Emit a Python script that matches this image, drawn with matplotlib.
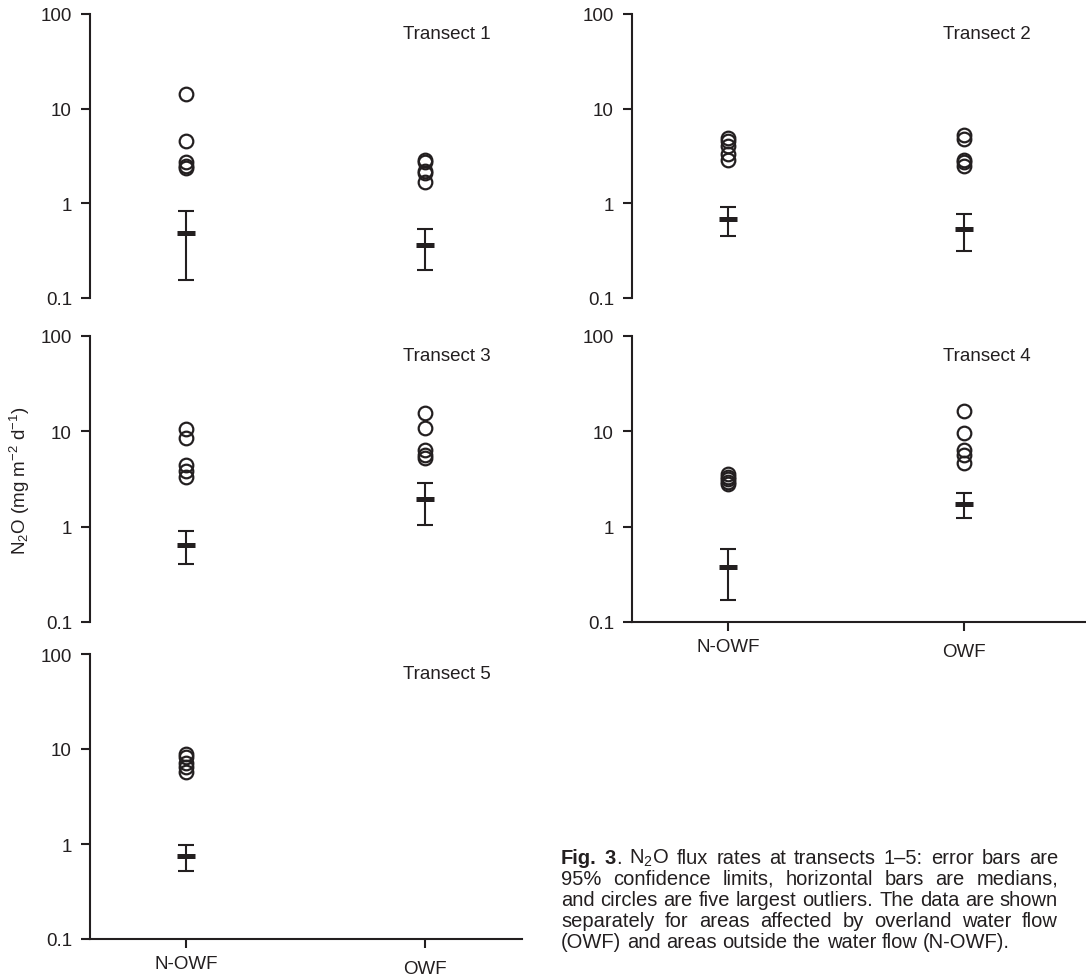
import numpy as np
import matplotlib
matplotlib.use("Agg")
import matplotlib.pyplot as plt
from matplotlib.ticker import FixedLocator, FixedFormatter, NullLocator

plt.rcParams['font.family'] = ['Liberation Sans', 'DejaVu Sans']
plt.rcParams['mathtext.fontset'] = 'custom'
plt.rcParams['mathtext.rm'] = 'Liberation Sans'
plt.rcParams['mathtext.it'] = 'Liberation Sans:italic'
plt.rcParams['mathtext.bf'] = 'Liberation Sans:bold'

INK = '#231f20'

# Data
groups = ['N-OWF', 'OWF']
transects = ['Transect 1', 'Transect 2', 'Transect 3', 'Transect 4', 'Transect 5']

median_nowf = [0.49, 0.68, 0.65, 0.38, 0.74]
lower_nowf = [0.155, 0.45, 0.41, 0.17, 0.52]
upper_nowf = [0.82, 0.91, 0.90, 0.59, 0.98]

median_owf = [0.36, 0.54, 1.97, 1.74, np.nan]
lower_owf = [0.20, 0.31, 1.05, 1.22, np.nan]
upper_owf = [0.53, 0.78, 2.90, 2.24, np.nan]

outliers_nowf = [
    [14.3, 4.5, 2.7, 2.5, 2.35],
    [4.9, 4.5, 4.0, 3.3, 2.9],
    [10.5, 8.6, 4.4, 3.8, 3.3],
    [3.55, 3.35, 3.13, 2.94, 2.78],
    [8.9, 8.2, 7.2, 6.4, 5.7],
]
outliers_owf = [
    [2.85, 2.75, 2.2, 2.1, 1.7],
    [5.3, 4.8, 2.9, 2.7, 2.5],
    [15.5, 10.9, 6.4, 5.7, 5.2],
    [16.3, 9.7, 6.3, 5.7, 4.7],
    [],
]

yticks = [0.1, 1, 10, 100]
ytick_labels = ['0.1', '1', '10', '100']

caption_lines = [
    "**Fig. 3**. N$_2$O flux rates at transects 1\u20135: error bars are",
    "95% confidence limits, horizontal bars are medians,",
    "and circles are five largest outliers. The data are shown",
    "separately for areas affected by overland water flow",
    "(OWF) and areas outside the water flow (N-OWF).",
]

# Layout in pixels
W, H = 1086, 978
fig = plt.figure(figsize=(W / 100, H / 100), dpi=100)

cols = [(90, 522, (0.598, 2.406)), (632, 1086, (0.593, 2.517))]
rows = [(15, 299), (337, 623), (655, 940)]
slots = [(0, 0), (0, 1), (1, 0), (1, 1), (2, 0)]
with_xaxis = [False, False, False, True, True]

FS = 13.5
for i, (r, c) in enumerate(slots):
    left, right, xlim = cols[c]
    top, bottom = rows[r]
    ax = fig.add_axes([left / W, 1 - bottom / H, (right - left) / W, (bottom - top) / H])
    ax.set_yscale('log')
    ax.set_ylim(0.1, 100)
    ax.set_xlim(*xlim)
    for s in ['top', 'right']:
        ax.spines[s].set_visible(False)
    ax.spines['left'].set_linewidth(1.5)
    ax.spines['left'].set_color(INK)
    ax.yaxis.set_major_locator(FixedLocator(yticks))
    ax.yaxis.set_major_formatter(FixedFormatter(ytick_labels))
    ax.yaxis.set_minor_locator(NullLocator())
    ax.tick_params(axis='y', length=6.5, width=1.5, pad=6.5, labelsize=FS,
                   colors=INK, direction='out')
    ax.set_xticks([1, 2])
    if with_xaxis[i]:
        ax.spines['bottom'].set_linewidth(1.5)
        ax.spines['bottom'].set_color(INK)
        ax.set_xticklabels(groups)
        ax.tick_params(axis='x', length=6.5, width=1.5, pad=5, labelsize=FS,
                       colors=INK, direction='out')
        ax.get_xticklabels()[1].set_y(-0.017)
    else:
        ax.spines['bottom'].set_visible(False)
        ax.tick_params(axis='x', length=0, labelbottom=False)
    ax.patch.set_visible(False)

    meds = [median_nowf[i], median_owf[i]]
    los = [lower_nowf[i], lower_owf[i]]
    his = [upper_nowf[i], upper_owf[i]]
    outs = [outliers_nowf[i], outliers_owf[i]]
    for x, m, lo, hi, ol in zip([1, 2], meds, los, his, outs):
        if np.isnan(m):
            continue
        ax.errorbar([x], [m], yerr=[[m - lo], [hi - m]], fmt='none', ecolor=INK,
                    elinewidth=1.5, capsize=6, capthick=1.5)
        ax.plot([x], [m], marker='_', ms=12.5, mew=3.6, color=INK, ls='none')
        ax.plot([x] * len(ol), ol, 'o', mfc='none', mec=INK, ms=9.8, mew=1.6, ls='none')
    ax.text(1.91, 62, transects[i], ha='left', va='center', fontsize=FS, color=INK)

fig.text(20 / W, 1 - 481 / H, r"N$_2$O (mg m$^{-2}$ d$^{-1}$)", rotation=90,
         ha='center', va='center', fontsize=FS, color=INK)

# Caption, justified word by word
CFS = 14.5
cap_left, cap_right = 561, 1058
cap_baselines = [864, 885, 906, 927, 948]
fig.canvas.draw()
rend = fig.canvas.get_renderer()


def seg_width(txt, bold):
    t = fig.text(0, 0, txt, fontsize=CFS, weight='bold' if bold else 'normal')
    w = t.get_window_extent(renderer=rend).width
    t.remove()
    return w


space = seg_width("a a", False) - seg_width("aa", False)
bold = False
for li, line in enumerate(caption_lines):
    words = []
    for word in line.split(' '):
        segs = []
        parts = word.split('**')
        for k, p in enumerate(parts):
            if k > 0:
                bold = not bold
            if p:
                segs.append((p, bold, seg_width(p, bold)))
        words.append(segs)
    widths = [sum(s[2] for s in w) for w in words]
    last = li == len(caption_lines) - 1
    if last or len(words) < 2:
        gap = space
    else:
        gap = (cap_right - cap_left - sum(widths)) / (len(words) - 1)
    x = cap_left
    y = 1 - cap_baselines[li] / H
    for segs, wd in zip(words, widths):
        xs = x
        for txt, b, sw in segs:
            fig.text(xs / W, y, txt, fontsize=CFS, weight='bold' if b else 'normal',
                     color=INK, ha='left', va='baseline')
            xs += sw
        x += wd + gap

fig.savefig('out.png', dpi=100)
